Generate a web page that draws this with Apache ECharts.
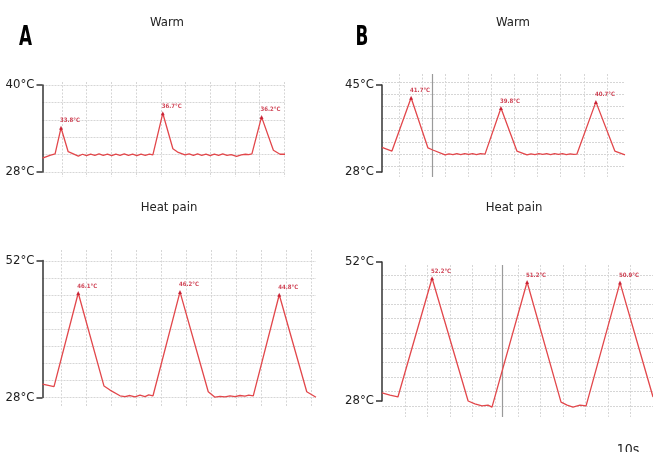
<!DOCTYPE html>
<html><head><meta charset="utf-8">
<script src="https://cdn.jsdelivr.net/npm/echarts@6/dist/echarts.min.js"></script>
<style>html,body{margin:0;padding:0;background:#fff}#c{width:653px;height:452px}</style>
</head><body><div id="c"></div>
<script>
// ---- data (time in grid cells, temperature in °C) ----
const warmA_time = [0.00,0.30,0.51,0.59,0.75,1.04,1.18,1.45,1.62,1.78,1.95,2.12,2.29,2.46,2.63,2.80,2.97,3.14,3.31,3.48,3.65,3.82,3.99,4.16,4.33,4.47,4.87,5.28,5.47,5.77,5.94,6.11,6.28,6.45,6.62,6.79,6.96,7.13,7.30,7.47,7.64,7.86,8.05,8.22,8.35,8.48,8.87,9.35,9.62,9.82];
const warmA_temp = [29.9,30.3,30.5,30.65,34.1,30.8,30.6,30.2,30.45,30.25,30.45,30.3,30.5,30.3,30.45,30.25,30.45,30.3,30.5,30.3,30.45,30.25,30.45,30.3,30.45,30.35,36.1,31.2,30.75,30.35,30.5,30.3,30.5,30.3,30.45,30.25,30.45,30.3,30.5,30.3,30.4,30.15,30.35,30.45,30.4,30.5,35.6,31.0,30.45,30.45];

const heatA_time = [0.00,0.46,1.43,2.46,2.70,3.10,3.30,3.50,3.70,3.90,4.10,4.25,4.42,5.50,6.63,6.90,7.10,7.30,7.50,7.70,7.90,8.10,8.25,8.43,9.47,10.57,10.94];
const heatA_temp = [30.35,29.9,46.3,30.0,29.3,28.3,28.15,28.35,28.1,28.4,28.15,28.45,28.3,46.5,29.0,28.05,28.2,28.1,28.3,28.15,28.35,28.25,28.4,28.3,46.0,29.0,28.05];

const warmB_time = [0.00,0.43,1.26,1.99,2.20,2.73,2.90,3.07,3.24,3.41,3.58,3.75,3.92,4.09,4.26,4.46,5.15,5.84,6.28,6.45,6.62,6.79,6.96,7.13,7.30,7.47,7.64,7.81,7.98,8.15,8.30,8.44,9.26,10.08,10.52];
const warmB_temp = [32.8,32.1,42.5,32.7,32.3,31.35,31.55,31.4,31.6,31.4,31.6,31.45,31.6,31.4,31.6,31.5,40.5,32.1,31.35,31.55,31.4,31.6,31.45,31.6,31.4,31.6,31.45,31.6,31.4,31.55,31.45,31.5,41.7,32.1,31.35];

const heatB_time = [0.00,0.34,0.68,2.14,3.68,3.97,4.27,4.53,4.70,6.20,7.65,7.91,8.16,8.46,8.72,10.17,11.58];
const heatB_temp = [29.4,29.0,28.7,49.2,28.0,27.5,27.15,27.3,26.95,48.55,27.8,27.3,26.95,27.3,27.15,48.45,28.7];

const warmA_ticks = [28, 40];
const heatA_ticks = [28, 52];
const warmB_ticks = [28, 45];
const heatB_ticks = [28, 52];

const warmA_peakLabels = ['33.8°C','36.7°C','36.2°C'];
const heatA_peakLabels = ['46.1°C','46.2°C','44.8°C'];
const warmB_peakLabels = ['41.7°C','39.8°C','40.7°C'];
const heatB_peakLabels = ['52.2°C','51.2°C','50.9°C'];

const panelTitles = ['Warm','Heat pain','Warm','Heat pain'];
const panelLetters = ['A','B'];
const scaleText = '10s';
// cursor lines (in vertical-grid units) for panels B
const warmB_cursor = [2.45];
const heatB_cursor = [5.32];

// ---- layout ----
const panels = [
  {time:warmA_time, temp:warmA_temp, ticks:warmA_ticks, peaks:warmA_peakLabels, cursor:[], title:panelTitles[0],
   axisX:42.5, right:285, top:85, bottom:172, hTop:85, hBottom:172, hCount:5, vLeft:37.3, vStep:24.7, vCount:11, vTop:82, vBottom:177, tx:167, ty:23},
  {time:heatA_time, temp:heatA_temp, ticks:heatA_ticks, peaks:heatA_peakLabels, cursor:[], title:panelTitles[1],
   axisX:42.5, right:316, top:260.5, bottom:397.5, hTop:261, hBottom:397, hCount:8, vLeft:36, vStep:25, vCount:12, vTop:250, vBottom:407, tx:169, ty:208},
  {time:warmB_time, temp:warmB_temp, ticks:warmB_ticks, peaks:warmB_peakLabels, cursor:warmB_cursor, title:panelTitles[2],
   axisX:382, right:625, top:85, bottom:172, hTop:82, hBottom:166, hCount:7, vLeft:375.9, vStep:23.1, vCount:11, vTop:74, vBottom:177, tx:513, ty:23},
  {time:heatB_time, temp:heatB_temp, ticks:heatB_ticks, peaks:heatB_peakLabels, cursor:heatB_cursor, title:panelTitles[3],
   axisX:382, right:653, top:262, bottom:401, hTop:275, hBottom:406, hCount:9, vLeft:382.6, vStep:23.4, vCount:12, vTop:265, vBottom:417, tx:514, ty:208}
];

const FONT = "'Liberation Sans Narrow','DejaVu Sans Condensed','Liberation Sans',sans-serif";
const LINE_RED = '#e2474b';
const PEAK_RED = '#c3142b';
const GRID_COLOR = '#d6d6d6';

const grid = [], xAxis = [], yAxis = [], series = [], graphic = [];

panels.forEach((p, i) => {
  const g1 = grid.length;
  grid.push({left:p.axisX, top:p.top, width:p.right - p.axisX, height:p.bottom - p.top});
  grid.push({left:p.axisX, top:p.hTop, width:p.right - p.axisX, height:p.hBottom - p.hTop});
  grid.push({left:p.vLeft, top:p.vTop, width:p.vCount * p.vStep, height:p.vBottom - p.vTop});

  // data grid
  xAxis.push({gridIndex:g1, type:'value', min:'dataMin', max:'dataMax', show:false});
  yAxis.push({gridIndex:g1, type:'value', min:p.ticks[0], max:p.ticks[p.ticks.length-1],
    axisLine:{show:true, lineStyle:{color:'#333', width:1.5}},
    axisTick:{show:true, length:6, customValues:p.ticks, lineStyle:{color:'#333', width:1.5}},
    axisLabel:{show:true, customValues:p.ticks, margin:8, formatter:v => v + '°C',
      fontFamily:FONT, fontSize:13, color:'#222'},
    splitLine:{show:false}});

  // horizontal gridlines
  xAxis.push({gridIndex:g1+1, type:'value', min:0, max:1, show:false});
  yAxis.push({gridIndex:g1+1, type:'value', min:0, max:p.hCount, interval:1,
    axisLine:{show:false}, axisTick:{show:false}, axisLabel:{show:false},
    splitLine:{show:true, lineStyle:{color:GRID_COLOR, width:1, type:[2,1]}}});

  // vertical gridlines
  xAxis.push({gridIndex:g1+2, type:'value', min:0, max:p.vCount, interval:1,
    axisLine:{show:false}, axisTick:{show:false}, axisLabel:{show:false},
    splitLine:{show:true, showMinLine:false, showMaxLine:false, lineStyle:{color:GRID_COLOR, width:1, type:[2,1.5]}}});
  yAxis.push({gridIndex:g1+2, type:'value', min:0, max:1, show:false});

  const pts = p.time.map((t, k) => [t, p.temp[k]]);
  series.push({type:'line', xAxisIndex:g1, yAxisIndex:g1, data:pts, clip:false,
    symbol:'none', smooth:false, lineStyle:{color:LINE_RED, width:1.3}, z:5});

  // peaks: local maxima above mid range
  const lo = Math.min(...p.temp), hi = Math.max(...p.temp), mid = (lo + hi) / 2;
  const peakPts = [];
  p.temp.forEach((v, k) => {
    if (k > 0 && k < p.temp.length - 1 && v > p.temp[k-1] && v > p.temp[k+1] && v > mid) peakPts.push([p.time[k], v]);
  });
  series.push({type:'scatter', xAxisIndex:g1, yAxisIndex:g1, data:peakPts, clip:false,
    symbol:'triangle', symbolSize:[4,4], itemStyle:{color:PEAK_RED}, z:6, silent:true,
    label:{show:true, position:'top', distance:2, align:'left', offset:[-1,0],
      formatter: prm => p.peaks[prm.dataIndex] || '',
      fontFamily:FONT, fontSize:6, fontWeight:'bold', color:PEAK_RED}});

  if (p.cursor.length) {
    series.push({type:'line', xAxisIndex:g1+2, yAxisIndex:g1+2, data:[], silent:true,
      markLine:{silent:true, symbol:'none', label:{show:false},
        lineStyle:{color:'#9a9a9a', type:'solid', width:1.2},
        data:p.cursor.map(c => ({xAxis:c}))}});
  }

  graphic.push({type:'text', x:p.tx, y:p.ty,
    style:{text:p.title, textAlign:'center', textVerticalAlign:'middle',
      font:"13px " + FONT, fill:'#222'}});
});

graphic.push({type:'text', x:25.5, y:38, scaleX:0.72,
  style:{text:panelLetters[0], textAlign:'center', textVerticalAlign:'middle', font:"bold 26px " + FONT, fill:'#000'}});
graphic.push({type:'text', x:362, y:38, scaleX:0.72,
  style:{text:panelLetters[1], textAlign:'center', textVerticalAlign:'middle', font:"bold 26px " + FONT, fill:'#000'}});
graphic.push({type:'text', x:628, y:450,
  style:{text:scaleText, textAlign:'center', textVerticalAlign:'middle', font:"14px " + FONT, fill:'#222'}});

const chart = echarts.init(document.getElementById('c'), null, {renderer:'canvas'});
chart.setOption({animation:false, backgroundColor:'#fff', grid, xAxis, yAxis, series, graphic});
</script>
</body></html>
